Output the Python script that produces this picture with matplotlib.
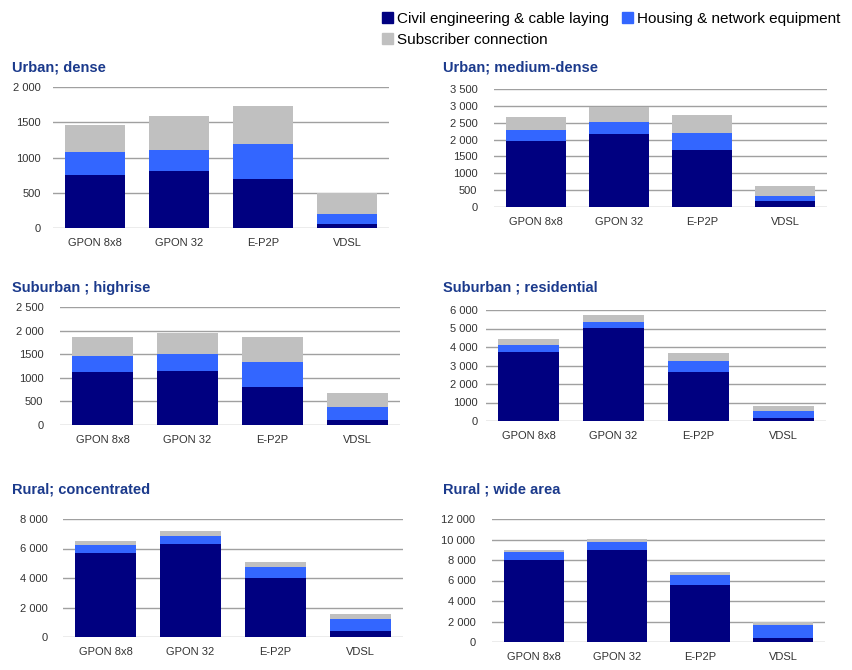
import matplotlib.pyplot as plt
from matplotlib.patches import Patch
import numpy as np

plt.rcParams['font.family'] = ['Liberation Sans', 'DejaVu Sans']

# Data.
technologies = ['GPON 8x8', 'GPON 32', 'E-P2P', 'VDSL']
series_names = ['Civil engineering & cable laying', 'Housing & network equipment', 'Subscriber connection']

titles = ['Urban; dense', 'Urban; medium-dense', 'Suburban ; highrise',
          'Suburban ; residential', 'Rural; concentrated', 'Rural ; wide area']

# Civil engineering & cable laying, per panel.
civil = [[750, 803, 698, 52],
         [1956, 2163, 1681, 167],
         [1117, 1152, 801, 112],
         [3748, 5027, 2649, 144],
         [5672, 6305, 4000, 407],
         [7967, 9008, 5528, 358]]
# Housing & network equipment, per panel.
housing = [[324, 309, 499, 152],
           [315, 354, 511, 148],
           [351, 344, 540, 267],
           [378, 342, 576, 379],
           [565, 565, 746, 813],
           [781, 781, 1009, 1333]]
# Subscriber connection, per panel.
subscriber = [[389, 470, 527, 295],
              [403, 452, 531, 314],
              [393, 449, 520, 309],
              [288, 379, 433, 270],
              [249, 339, 361, 362],
              [195, 292, 292, 260]]

yticks = [[0, 500, 1000, 1500, 2000],
          [0, 500, 1000, 1500, 2000, 2500, 3000, 3500],
          [0, 500, 1000, 1500, 2000, 2500],
          [0, 1000, 2000, 3000, 4000, 5000, 6000],
          [0, 2000, 4000, 6000, 8000],
          [0, 2000, 4000, 6000, 8000, 10000, 12000]]
yticklabels = [['0', '500', '1000', '1500', '2 000'],
               ['0', '500', '1000', '1500', '2 000', '2 500', '3 000', '3 500'],
               ['0', '500', '1000', '1500', '2 000', '2 500'],
               ['0', '1000', '2 000', '3 000', '4 000', '5 000', '6 000'],
               ['0', '2 000', '4 000', '6 000', '8 000'],
               ['0', '2 000', '4 000', '6 000', '8 000', '10 000', '12 000']]

colors = ['#000080', '#3366FF', '#C0C0C0']
title_color = '#1B3A8C'

################################################################################
# Layout in pixels: x left, x right, y top, y bottom, title x, title y, ytick pad.
W, H = 853, 670
layout = [(53, 389, 87, 228, 12, 68, 9),
          (494, 827, 89, 207, 443, 68, 12),
          (60, 400, 307, 425, 12, 288, 12),
          (486, 826, 310, 421, 443, 288, 6),
          (63, 403, 519, 637, 12, 490, 11),
          (492, 825, 519, 642, 443, 490, 12)]

fig = plt.figure(figsize=(W/100, H/100), dpi=100)

x = np.arange(len(technologies))
for i in range(6):
  x0, x1, yt, yb, tx, ty, pad = layout[i]
  ax = fig.add_axes([x0/W, 1-yb/H, (x1-x0)/W, (yb-yt)/H])
  c = np.array(civil[i]); h = np.array(housing[i]); s = np.array(subscriber[i])
  ax.bar(x, c, 0.72, color=colors[0], zorder=3)
  ax.bar(x, h, 0.72, bottom=c, color=colors[1], zorder=3)
  ax.bar(x, s, 0.72, bottom=c+h, color=colors[2], zorder=3)
  ax.set_xlim(-0.5, 3.5)
  ax.set_ylim(0, yticks[i][-1])
  ax.set_yticks(yticks[i])
  ax.set_yticklabels(yticklabels[i])
  ax.set_xticks(x)
  ax.set_xticklabels(technologies)
  ax.grid(axis='y', color='#A0A0A0', lw=1, zorder=0)
  for sp in ax.spines.values():
    sp.set_visible(False)
  ax.tick_params(axis='y', length=0, pad=pad, labelsize=8, labelcolor='#333333')
  ax.tick_params(axis='x', length=0, pad=7, labelsize=8, labelcolor='#333333')
  fig.text(tx/W, 1-ty/H, titles[i], fontsize=10.5, fontweight='bold', color=title_color,
           ha='left', va='center')

# Legend.
handles = [Patch(color=colors[0], label=series_names[0]),
           Patch(color=colors[2], label=series_names[2]),
           Patch(color=colors[1], label=series_names[1])]
fig.legend(handles=handles, ncol=2, loc='upper left', bbox_to_anchor=(376/W, 1-6/H),
           frameon=False, fontsize=11, handlelength=0.7, handleheight=0.7,
           handletextpad=0.25, columnspacing=0.9, labelspacing=0.45, borderaxespad=0)

fig.savefig('out.png', dpi=100)
plt.close()
